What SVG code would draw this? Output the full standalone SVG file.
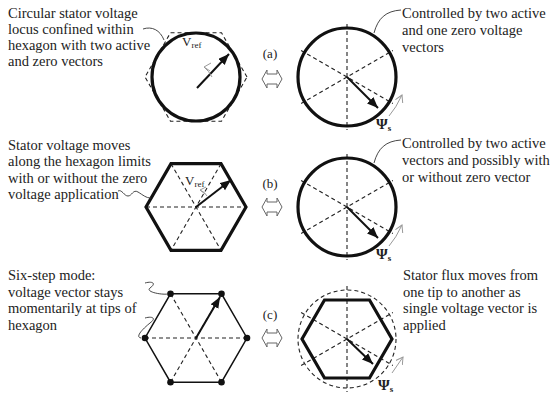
<svg xmlns="http://www.w3.org/2000/svg" width="552" height="397" viewBox="0 0 552 397">
<defs>
<marker id="ah" markerUnits="userSpaceOnUse" markerWidth="12" markerHeight="10" refX="11" refY="4.5" orient="auto">
<path d="M0,0 L11,4.5 L0,9 Z" fill="#111"/>
</marker>
<marker id="gh" markerUnits="userSpaceOnUse" markerWidth="10" markerHeight="10" refX="7" refY="4" orient="auto">
<path d="M0,0 L7,4 L0,8" fill="none" stroke="#999" stroke-width="1"/>
</marker>
</defs>
<style>
text{font-family:"Liberation Serif","Times New Roman",serif;fill:#222;}
.t{font-size:14.5px;}
.lab{font-size:13px;}
.v{font-size:13px;}
.sub{font-size:9px;}
.psi{font-size:15px;font-weight:bold;}
.psis{font-size:9px;font-weight:bold;}
.thick{fill:none;stroke:#111;stroke-width:3.2;}
.thin{fill:none;stroke:#111;stroke-width:1.5;}
.dash{fill:none;stroke:#222;stroke-width:1.1;stroke-dasharray:4,3;}
.vec{stroke:#111;stroke-width:2;marker-end:url(#ah);}
.gray{fill:none;stroke:#999;stroke-width:1;}
.lead{fill:none;stroke:#333;stroke-width:0.9;}
.dbl{fill:none;stroke:#666;stroke-width:1;}
</style>

<g id="panel-a-left">
<polygon class="dash" points="247,77 221.5,32.8 170.5,32.8 145,77 170.5,121.2 221.5,121.2"/>
<circle class="thick" cx="196" cy="77" r="44"/>
<line class="vec" x1="197" y1="88" x2="229" y2="54"/>
<path class="gray" d="M212,77 Q209,71 204,67 M204,67 L211,63 M204,67 L210,71"/>
<text class="v" x="182" y="46">V<tspan class="sub" dy="2">ref</tspan></text>
</g>

<g id="panel-a-right">
<line class="dash" x1="347" y1="24" x2="347" y2="130"/>
<line class="dash" x1="301.1" y1="50.5" x2="392.9" y2="103.5"/>
<line class="dash" x1="301.1" y1="103.5" x2="392.9" y2="50.5"/>
<circle class="thick" cx="347" cy="77" r="49"/>
<line class="vec" x1="347" y1="77" x2="378" y2="108"/>
<path class="gray" d="M389,116 Q396,108 402,95" marker-end="url(#gh)"/>
<text class="psi" x="376" y="129">Ψ<tspan class="psis" dy="2">s</tspan></text>
</g>

<g id="panel-b-left">
<line class="dash" x1="146" y1="207" x2="246" y2="207"/>
<line class="dash" x1="171" y1="163.7" x2="221" y2="250.3"/>
<line class="dash" x1="221" y1="163.7" x2="171" y2="250.3"/>
<polygon class="thick" points="246,207 221,163.7 171,163.7 146,207 171,250.3 221,250.3"/>
<line class="vec" x1="196" y1="207" x2="231" y2="180"/>
<path class="gray" d="M207,196 Q205,192 200,190 M200,190 L206,187 M200,190 L205,194"/>
<text class="v" x="185" y="185">V<tspan class="sub" dy="2">ref</tspan></text>
</g>

<g id="panel-b-right">
<line class="dash" x1="347" y1="154" x2="347" y2="260"/>
<line class="dash" x1="301.1" y1="180.5" x2="392.9" y2="233.5"/>
<line class="dash" x1="301.1" y1="233.5" x2="392.9" y2="180.5"/>
<circle class="thick" cx="347" cy="207" r="49"/>
<line class="vec" x1="347" y1="207" x2="378" y2="238"/>
<path class="gray" d="M389,246 Q396,238 402,225" marker-end="url(#gh)"/>
<text class="psi" x="376" y="259">Ψ<tspan class="psis" dy="2">s</tspan></text>
</g>

<g id="panel-c-left">
<line class="dash" x1="145" y1="338" x2="247" y2="338"/>
<line class="dash" x1="170.5" y1="293.8" x2="221.5" y2="382.2"/>
<line class="dash" x1="221.5" y1="293.8" x2="170.5" y2="382.2"/>
<polygon class="thin" points="247,338 221.5,293.8 170.5,293.8 145,338 170.5,382.2 221.5,382.2"/>
<g fill="#111">
<circle cx="247" cy="338" r="3.3"/><circle cx="221.5" cy="293.8" r="3.3"/><circle cx="170.5" cy="293.8" r="3.3"/>
<circle cx="145" cy="338" r="3.3"/><circle cx="170.5" cy="382.2" r="3.3"/><circle cx="221.5" cy="382.2" r="3.3"/>
</g>
<line class="vec" x1="196" y1="338" x2="220" y2="297"/>
</g>

<g id="panel-c-right">
<circle class="dash" cx="347" cy="339" r="49"/>
<line class="dash" x1="347" y1="286" x2="347" y2="392"/>
<line class="dash" x1="301.1" y1="312.5" x2="392.9" y2="365.5"/>
<line class="dash" x1="301.1" y1="365.5" x2="392.9" y2="312.5"/>
<polygon class="thick" points="392,339 369.5,300 324.5,300 302,339 324.5,378 369.5,378"/>
<line class="vec" x1="347" y1="339" x2="373" y2="364"/>
<path class="gray" d="M392,373 L403,357" marker-end="url(#gh)"/>
<text class="psi" x="378" y="390">Ψ<tspan class="psis" dy="2">s</tspan></text>
</g>

<g id="mid-a">
<text class="lab" x="270" y="58" text-anchor="middle">(a)</text>
<path class="dbl" d="M262,79 L267,70 L267,74 L277,74 L277,70 L282,79 L277,88 L277,84 L267,84 L267,88 Z"/>
</g>
<g id="mid-b">
<text class="lab" x="270" y="188" text-anchor="middle">(b)</text>
<path class="dbl" d="M262,207 L267,198 L267,202 L277,202 L277,198 L282,207 L277,216 L277,212 L267,212 L267,216 Z"/>
</g>
<g id="mid-c">
<text class="lab" x="270" y="319" text-anchor="middle">(c)</text>
<path class="dbl" d="M262,338 L267,329 L267,333 L277,333 L277,329 L282,338 L277,347 L277,343 L267,343 L267,347 Z"/>
</g>

<g id="text-a-left">
<text class="t" x="8" y="18">Circular stator voltage</text>
<text class="t" x="8" y="34">locus confined within</text>
<text class="t" x="8" y="50">hexagon with two active</text>
<text class="t" x="8" y="66">and zero vectors</text>
</g>
<g id="text-a-right">
<text class="t" x="402" y="18">Controlled by two active</text>
<text class="t" x="402" y="35">and one zero voltage</text>
<text class="t" x="402" y="52">vectors</text>
</g>
<g id="text-b-left">
<text class="t" x="8" y="150">Stator voltage moves</text>
<text class="t" x="8" y="166">along the hexagon limits</text>
<text class="t" x="8" y="183">with or without the zero</text>
<text class="t" x="8" y="199">voltage application</text>
</g>
<g id="text-b-right">
<text class="t" x="402" y="148">Controlled by two active</text>
<text class="t" x="402" y="165">vectors and possibly with</text>
<text class="t" x="402" y="182">or without zero vector</text>
</g>
<g id="text-c-left">
<text class="t" x="8" y="280">Six-step mode:</text>
<text class="t" x="8" y="297">voltage vector stays</text>
<text class="t" x="8" y="313">momentarily at tips of</text>
<text class="t" x="8" y="330">hexagon</text>
</g>
<g id="text-c-right">
<text class="t" x="403" y="280">Stator flux moves from</text>
<text class="t" x="403" y="297">one tip to another as</text>
<text class="t" x="403" y="313">single voltage vector is</text>
<text class="t" x="403" y="330">applied</text>
</g>

<g id="connectors">
<path class="lead" d="M143,29 C152,26 160,30 164,40"/>
<path class="lead" d="M374,33 C378,18 386,11 401,10"/>
<path class="lead" d="M374,163 C378,148 386,141 401,140"/>
<path class="lead" d="M118,191 C122,189 124,196 128,196 C132,196 133,189 138,192 C143,195 146,198 151,198"/>
<path class="lead" d="M145,283 C152,281 157,283 150,288 C145,292 162,295 168,294"/>
<path class="lead" d="M145,318 C152,316 157,318 150,323 C145,327 134,337 141,338"/>
</g>
</svg>
